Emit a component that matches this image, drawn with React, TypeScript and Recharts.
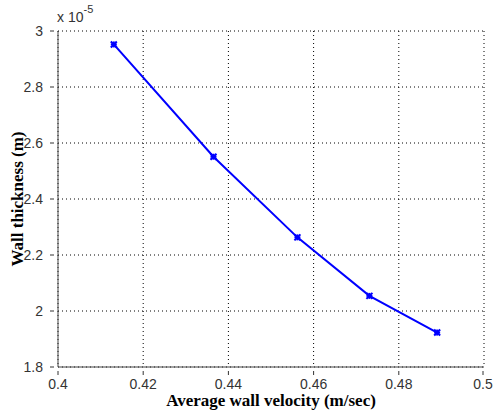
import { LineChart, Line, XAxis, YAxis, CartesianGrid } from 'recharts';

const velocity = [0.4131, 0.4365, 0.4562, 0.4731, 0.489];
const thickness = [2.952, 2.551, 2.263, 2.054, 1.923];
const xTicks = [0.4, 0.42, 0.44, 0.46, 0.48, 0.5];
const yTicks = [1.8, 2, 2.2, 2.4, 2.6, 2.8, 3];

const data = velocity.map((v, i) => ({ v, t: thickness[i] }));

const tickFont = { fontFamily: 'Liberation Sans, Arial, sans-serif', fontSize: 14, fill: '#333' };
const labelFont = { fontFamily: 'Liberation Serif, Times New Roman, serif', fontSize: 17, fontWeight: 700, fill: '#000' };

function fmt(n: number) {
  return String(Number(n.toFixed(2)));
}

function BottomTick(props: any) {
  const { x, y, payload } = props;
  return (
    <g>
      <line x1={x} x2={x} y1={y} y2={y - 4} stroke="#333" />
      <text x={x} y={y + 14} textAnchor="middle" {...tickFont}>
        {fmt(payload.value)}
      </text>
    </g>
  );
}

function LeftTick(props: any) {
  const { x, y, payload } = props;
  return (
    <g>
      <line x1={x} x2={x + 4} y1={y} y2={y} stroke="#333" />
      <text x={x - 7} y={y + 5} textAnchor="end" {...tickFont}>
        {fmt(payload.value)}
      </text>
    </g>
  );
}

function TopTick(props: any) {
  const { x, y } = props;
  return <line x1={x} x2={x} y1={y} y2={y + 4} stroke="#333" />;
}

function RightTick(props: any) {
  const { x, y } = props;
  return <line x1={x} x2={x - 4} y1={y} y2={y} stroke="#333" />;
}

function StarDot(props: any) {
  const { cx, cy } = props;
  if (cx == null || cy == null) return null;
  const r = 3;
  return (
    <g stroke="#0000ff" strokeWidth={2}>
      <line x1={cx - r} x2={cx + r} y1={cy} y2={cy} />
      <line x1={cx} x2={cx} y1={cy - r} y2={cy + r} />
      <line x1={cx - r} x2={cx + r} y1={cy - r} y2={cy + r} />
      <line x1={cx - r} x2={cx + r} y1={cy + r} y2={cy - r} />
    </g>
  );
}

export default function App() {
  return (
    <div style={{ position: 'absolute', left: 0, top: 0, width: 493, height: 411, background: '#fff' }}>
      <LineChart width={493} height={411} data={data} margin={{ top: 31, right: 9, bottom: 0, left: 0 }}>
        <CartesianGrid xAxisId="b" yAxisId="l" stroke="#000" strokeDasharray="1 3" strokeWidth={1} />
        <XAxis
          xAxisId="b"
          type="number"
          dataKey="v"
          domain={[0.4, 0.5]}
          ticks={xTicks}
          height={44}
          stroke="#444"
          tickLine={false}
          tick={<BottomTick />}
          label={{ value: 'Average wall velocity (m/sec)', position: 'insideBottom', offset: 5, style: labelFont }}
        />
        <XAxis
          xAxisId="t"
          orientation="top"
          type="number"
          dataKey="v"
          domain={[0.4, 0.5]}
          ticks={xTicks}
          height={0}
          stroke="#444"
          tickLine={false}
          tick={<TopTick />}
        />
        <YAxis
          yAxisId="l"
          type="number"
          dataKey="t"
          domain={[1.8, 3]}
          ticks={yTicks}
          width={58}
          stroke="#444"
          tickLine={false}
          tick={<LeftTick />}
          label={{ value: 'Wall thickness (m)', angle: -90, position: 'insideLeft', offset: 17, style: { ...labelFont, textAnchor: 'middle' } }}
        />
        <YAxis
          yAxisId="r"
          orientation="right"
          type="number"
          dataKey="t"
          domain={[1.8, 3]}
          ticks={yTicks}
          width={0}
          stroke="#444"
          tickLine={false}
          tick={<RightTick />}
        />
        <Line
          xAxisId="b"
          yAxisId="l"
          dataKey="t"
          stroke="#0000ff"
          strokeWidth={2}
          dot={<StarDot />}
          isAnimationActive={false}
        />
      </LineChart>
      <div
        style={{
          position: 'absolute',
          left: 57,
          top: 6,
          fontFamily: 'Liberation Sans, Arial, sans-serif',
          fontSize: 14,
          color: '#333',
        }}
      >
        x 10<sup style={{ fontSize: 11, position: 'relative', top: -3 }}>-5</sup>
      </div>
    </div>
  );
}
